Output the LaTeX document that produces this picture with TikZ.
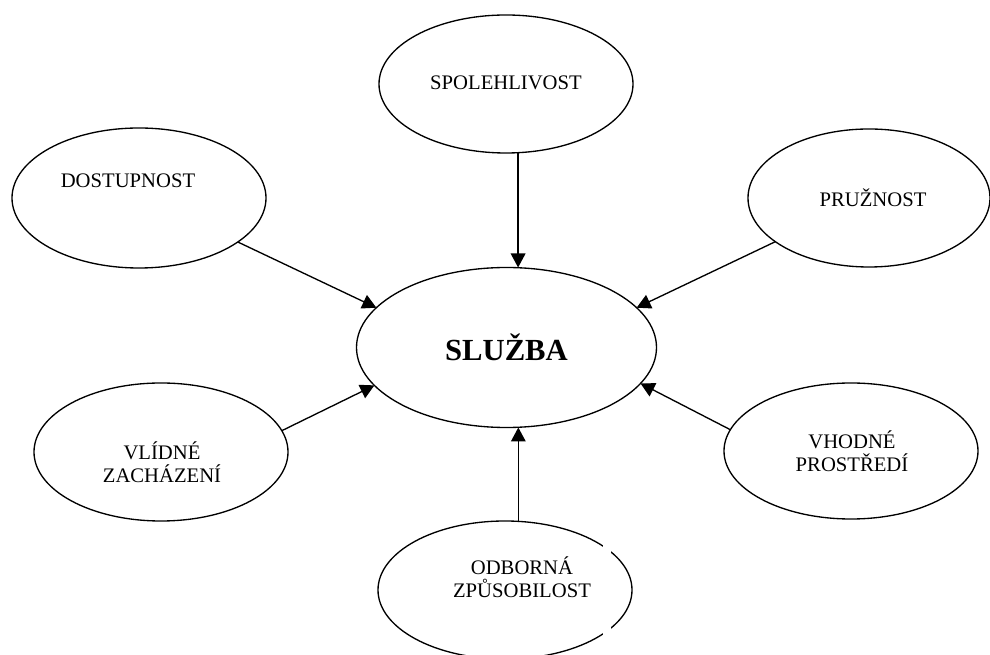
\documentclass[tikz,border=0pt]{standalone}
\usepackage{fontspec}
\setmainfont{Liberation Serif}
\usetikzlibrary{shapes.geometric,arrows.meta}
\tikzset{
  oval/.style={draw, ellipse, line width=1pt, inner sep=0pt, outer sep=0pt,
    minimum width=190.5pt, minimum height=103.5pt},
  txt/.style={font=\fontsize{15.5}{17.6}\selectfont, align=center, inner sep=0pt},
  arr/.style={-{Triangle[length=10.5pt,width=11pt]}, line width=1pt}
}
\begin{document}
\begin{tikzpicture}[x=0.75pt, y=-0.75pt]
  \useasboundingbox (0,0) rectangle (990,655);
  \node[oval, minimum width=225pt, minimum height=120pt] (sluzba) at (506.5,347.5)
    {\fontsize{23}{27}\selectfont\bfseries SLUŽBA};
  \node[oval, label={[txt, shift={(0,-1)}]center:SPOLEHLIVOST}] (spol) at (506,84) {};
  \node[oval, minimum height=105pt, label={[txt, shift={(-11,-17)}]center:DOSTUPNOST}] (dost) at (139,198) {};
  \node[oval, minimum width=181.5pt, label={[txt, shift={(4,0)}]center:PRUŽNOST}] (pruz) at (869,198) {};
  \node[oval, label={[txt, shift={(1,10)}]center:VLÍDNÉ\\ZACHÁZENÍ}] (vlid) at (161,452) {};
  \node[oval, minimum height=102pt, label={[txt, shift={(1,0)}]center:VHODNÉ\\PROSTŘEDÍ}] (vhod) at (851,451) {};
  \node[oval, label={[txt, shift={(17,-13)}]center:ODBORNÁ\\ZPŮSOBILOST}] (odb) at (505,590) {};
  \fill[white] (603,533) rectangle (611,647);
  \draw[arr] (spol.-80) -- (spol.-80 |- sluzba.north);
  \draw[arr] (dost.-24) -- (sluzba.163);
  \draw[arr] (pruz.205) -- (sluzba.17);
  \draw[arr] (vlid.10) -- (sluzba.196);
  \draw[arr] (vhod.170) -- (sluzba.-15);
  \draw[arr] (odb.79) -- (odb.79 |- sluzba.south);
\end{tikzpicture}
\end{document}
